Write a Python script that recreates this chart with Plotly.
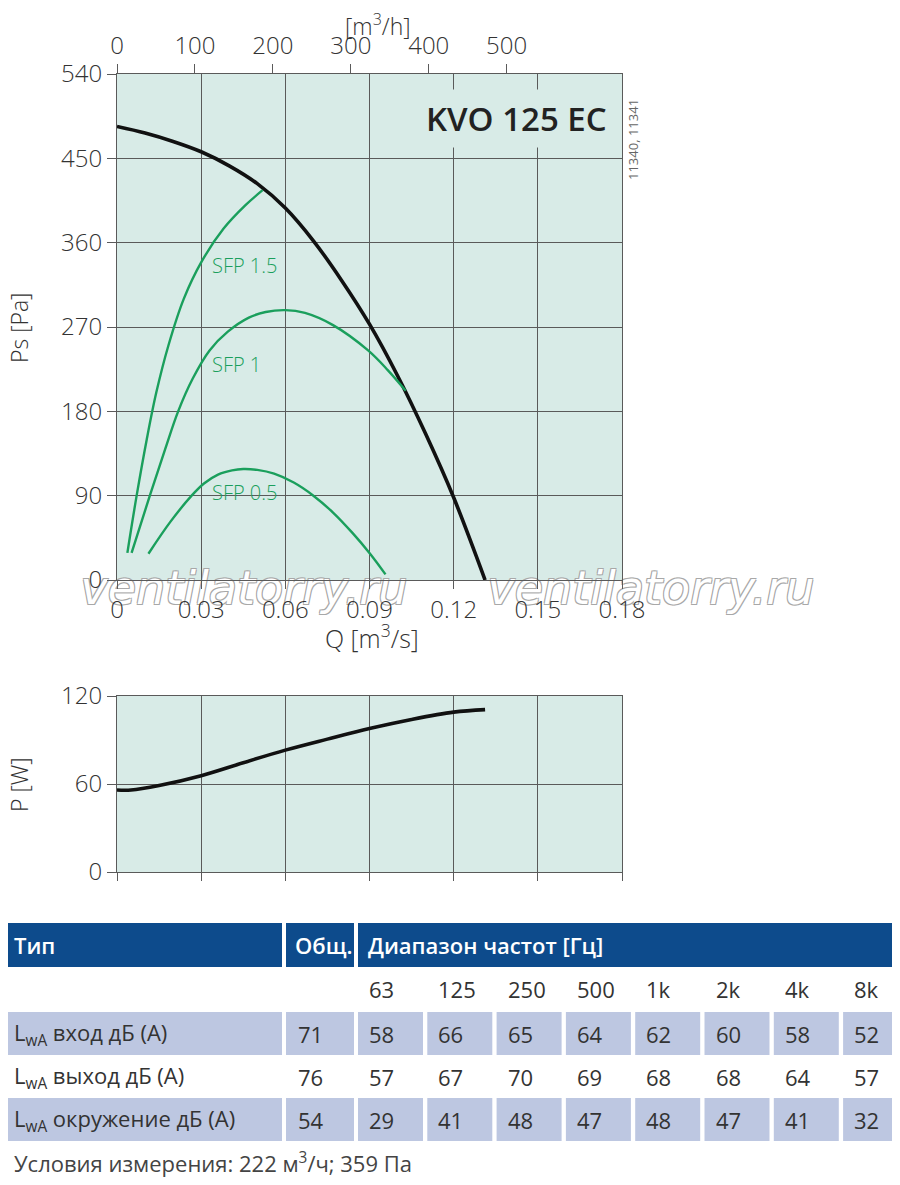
import plotly.graph_objects as go

# fan curve KVO 125 EC
fan_q = [0, 0.01, 0.02, 0.03, 0.04, 0.05, 0.06, 0.07, 0.08, 0.09, 0.10, 0.11, 0.12, 0.1312]
fan_ps = [484, 477, 468, 457, 442, 423, 397, 362, 320, 273, 218, 156, 88, 0]

sfp05_q = [0.0112, 0.0190, 0.0266, 0.0310, 0.0360, 0.0410, 0.0450, 0.0500, 0.0560, 0.0630, 0.0700,
           0.0770, 0.0840, 0.0902, 0.0957]
sfp05_ps = [28, 62, 90, 103, 112.5, 117, 118.4, 117.5, 113.5, 104, 90, 72, 50, 28, 6]

sfp1_q = [0.0052, 0.0117, 0.0172, 0.0218, 0.0270, 0.0330, 0.0395, 0.0470, 0.0530, 0.0600, 0.0670,
          0.0770, 0.0895, 0.0965, 0.1029]
sfp1_ps = [29, 90, 140, 180, 215, 245, 265, 280, 286, 288, 285, 272, 245, 224, 202]

sfp15_q = [0.0037, 0.0070, 0.0106, 0.0140, 0.0183, 0.0238, 0.0302, 0.0380, 0.0458, 0.0519]
sfp15_ps = [29, 90, 150, 200, 250, 300, 340, 375, 400, 416]

power_q = [0, 0.005, 0.015, 0.03, 0.045, 0.06, 0.075, 0.09, 0.105, 0.12, 0.1312]
power_w = [55.9, 55.9, 59.0, 65.7, 74.5, 83.1, 90.6, 97.8, 104.0, 109.0, 110.7]

q_ticks = [0, 0.03, 0.06, 0.09, 0.12, 0.15, 0.18]
qh_ticks = [0, 100, 200, 300, 400, 500]
ps_ticks = [0, 90, 180, 270, 360, 450, 540]
pw_ticks = [0, 60, 120]

# sound table
col_total = "Общ."
freq_labels = ["63", "125", "250", "500", "1k", "2k", "4k", "8k"]
row_names = ["L<sub>wA</sub> вход дБ (А)", "L<sub>wA</sub> выход дБ (А)", "L<sub>wA</sub> окружение дБ (А)"]
row_total = [71, 76, 54]
row_bands = [
    [58, 66, 65, 64, 62, 60, 58, 52],
    [57, 67, 70, 69, 68, 68, 64, 57],
    [29, 41, 48, 47, 48, 47, 41, 32],
]
footnote = "Условия измерения: 222 м<sup>3</sup>/ч; 359 Па"
watermark = "ventilatorry.ru"

# page has an 8px body margin, so the figure is laid out in page pixels minus 8
OFF = 8
W, H = 900 - OFF, 1185 - 2 * OFF
FONT = "Open Sans"
GRID = "#5a5a5a"
BG = "#d8ebe7"
GREEN = "#1a9f5c"
BLUE = "#0d4b8c"
SHADE = "#bdc7e1"


def px(x):
    return (x - OFF) / W


def py(y):
    return 1 - (y - OFF) / H


fig = go.Figure()
# watermark on its own (first, so lowest) subplot x/y, under the chart's tick labels
fig.add_trace(go.Scatter(x=[244, 651], y=[592, 592], mode="text", text=[watermark] * 2,
                         textposition="middle center", cliponaxis=False, hoverinfo="skip",
                         textfont=dict(family="DejaVu Sans", size=46, color="white", style="italic",
                                       shadow="-1px -1px 0 #a8a8a8, 1px -1px 0 #a8a8a8, "
                                              "-1px 1px 0 #a8a8a8, 1px 1px 0 #a8a8a8"),
                         xaxis="x", yaxis="y"))
# main chart on x2/y2, top flow axis x3, power chart on x4/y4
fig.add_trace(go.Scatter(x=fan_q, y=fan_ps, mode="lines", line=dict(color="#111", width=3.6, shape="spline"),
                         xaxis="x2", yaxis="y2"))
for qq, pp in [(sfp05_q, sfp05_ps), (sfp1_q, sfp1_ps), (sfp15_q, sfp15_ps)]:
    fig.add_trace(go.Scatter(x=qq, y=pp, mode="lines", line=dict(color=GREEN, width=2.4, shape="spline"),
                             xaxis="x2", yaxis="y2"))
fig.add_trace(go.Scatter(x=power_q, y=power_w, mode="lines", line=dict(color="#111", width=3.6, shape="spline"),
                         xaxis="x4", yaxis="y4"))
# a dummy trace so the m3/h axis is drawn
fig.add_trace(go.Scatter(x=[0, 648], y=[None, None], xaxis="x3", yaxis="y2", hoverinfo="skip"))

tickfont = dict(family=FONT, size=24, color="#333", weight=300)
common = dict(ticks="outside", tickcolor=GRID, gridcolor=GRID, gridwidth=1, showline=True, linecolor=GRID,
              linewidth=1, mirror=True, zeroline=False, tickfont=tickfont, automargin=False)
dom_x = [px(117), px(622)]
hidden = dict(visible=False, showgrid=False, zeroline=False, automargin=False)

fig.update_layout(
    width=W, height=H, margin=dict(l=0, r=0, t=0, b=0), paper_bgcolor="white", plot_bgcolor="rgba(0,0,0,0)",
    showlegend=False, font=dict(family=FONT, color="#333"),
    xaxis=dict(domain=[px(40), px(860)], range=[40, 860], anchor="y", **hidden),
    yaxis=dict(domain=[py(630), py(556)], range=[630, 556], anchor="x", **hidden),
    xaxis2=dict(domain=dom_x, range=[0, 0.18], tickvals=q_ticks, ticklen=8, anchor="y2", **common),
    yaxis2=dict(domain=[py(580), py(74)], range=[0, 540], tickvals=ps_ticks, ticklen=9, anchor="x2", **common),
    xaxis3=dict(overlaying="x2", side="top", anchor="y2", range=[0, 0.18 * 3600], tickvals=qh_ticks,
                ticks="outside", ticklen=9, tickcolor=GRID, showgrid=False, zeroline=False, tickfont=tickfont,
                automargin=False),
    xaxis4=dict(domain=dom_x, range=[0, 0.18], tickvals=q_ticks, ticklen=8, anchor="y4",
                showticklabels=False, **common),
    yaxis4=dict(domain=[py(872), py(696)], range=[0, 120], tickvals=pw_ticks, ticklen=9, anchor="x4", **common),
)

ann = []
shapes = []
# plot backgrounds (plot_bgcolor is transparent so the watermark panel stays white)
for y0, y1 in [(74, 580), (696, 872)]:
    shapes.append(dict(type="rect", xref="paper", yref="paper", x0=dom_x[0], x1=dom_x[1], y0=py(y1), y1=py(y0),
                       fillcolor=BG, line=dict(width=0), layer="below"))


def label(s, x, y, size=24, color="#333", weight=300, angle=0, xanchor="center", **kw):
    ann.append(dict(text=s, x=px(x), y=py(y), xref="paper", yref="paper", xanchor=xanchor, yanchor="middle",
                    showarrow=False, textangle=angle,
                    font=dict(family=FONT, size=size, color=color, weight=weight), **kw))


label("[m<sup>3</sup>/h]", 378, 25, size=23)
label("Q [m<sup>3</sup>/s]", 372, 636, size=25)
label("Ps [Pa]", 19, 328, size=23, angle=-90)
label("P [W]", 19, 785, size=23, angle=-90)
label("KVO 125 EC", 614, 118, size=33, color="#222", weight=600, xanchor="right", bgcolor=BG, borderpad=6)
label("11340, 11341", 633, 140, size=13, color="#666", weight=400, angle=-90)
for name, q, p in [("SFP 1.5", 0.0331, 336), ("SFP 1", 0.0331, 230), ("SFP 0.5", 0.0331, 93)]:
    ann.append(dict(text=name, x=q, y=p, xref="x2", yref="y2", xanchor="left", yanchor="middle", showarrow=False,
                    font=dict(family=FONT, size=20, color=GREEN, weight=300)))

# table
col_edges = [(0, 282), (286, 354)] + [(358 + i * 69.3, 358 + i * 69.3 + 65) for i in range(8)]
row_tops = [923, 967, 1012, 1055, 1098]
row_h = 44


def cell(x0, x1, y0, y1, color):
    shapes.append(dict(type="rect", xref="paper", yref="paper", x0=px(max(x0, OFF)), x1=px(min(x1, 900)),
                       y0=py(y1), y1=py(y0), fillcolor=color, line=dict(width=0), layer="below"))


def txt(s, x, y, color="#333", size=22, weight=400):
    label(s, x, y, size=size, color=color, weight=weight, xanchor="left")


# header row
hy = row_tops[0]
cell(col_edges[0][0], col_edges[0][1], hy, hy + row_h, BLUE)
cell(col_edges[1][0], col_edges[1][1], hy, hy + row_h, BLUE)
cell(col_edges[2][0], 900, hy, hy + row_h, BLUE)
txt("Тип", 12, hy + row_h / 2, "white", 22, 600)
txt(col_total, col_edges[1][0] + 7, hy + row_h / 2, "white", 22, 600)
txt("Диапазон частот [Гц]", col_edges[2][0] + 8, hy + row_h / 2, "white", 22, 600)

# band labels
fy = row_tops[1] + row_h / 2
for i, f in enumerate(freq_labels):
    txt(f, col_edges[2 + i][0] + 9, fy)

for r, name in enumerate(row_names):
    top = row_tops[2 + r]
    if r % 2 == 0:
        for x0, x1 in col_edges:
            cell(x0, x1 if x1 < 880 else 900, top, top + row_h - 1, SHADE)
    cy = top + row_h / 2
    txt(name, 12, cy)
    txt(str(row_total[r]), col_edges[1][0] + 10, cy)
    for i, v in enumerate(row_bands[r]):
        txt(str(v), col_edges[2 + i][0] + 9, cy)

txt(footnote, 12, 1162, "#444", 22)

fig.update_layout(annotations=ann, shapes=shapes)
fig.write_html("out.html")
